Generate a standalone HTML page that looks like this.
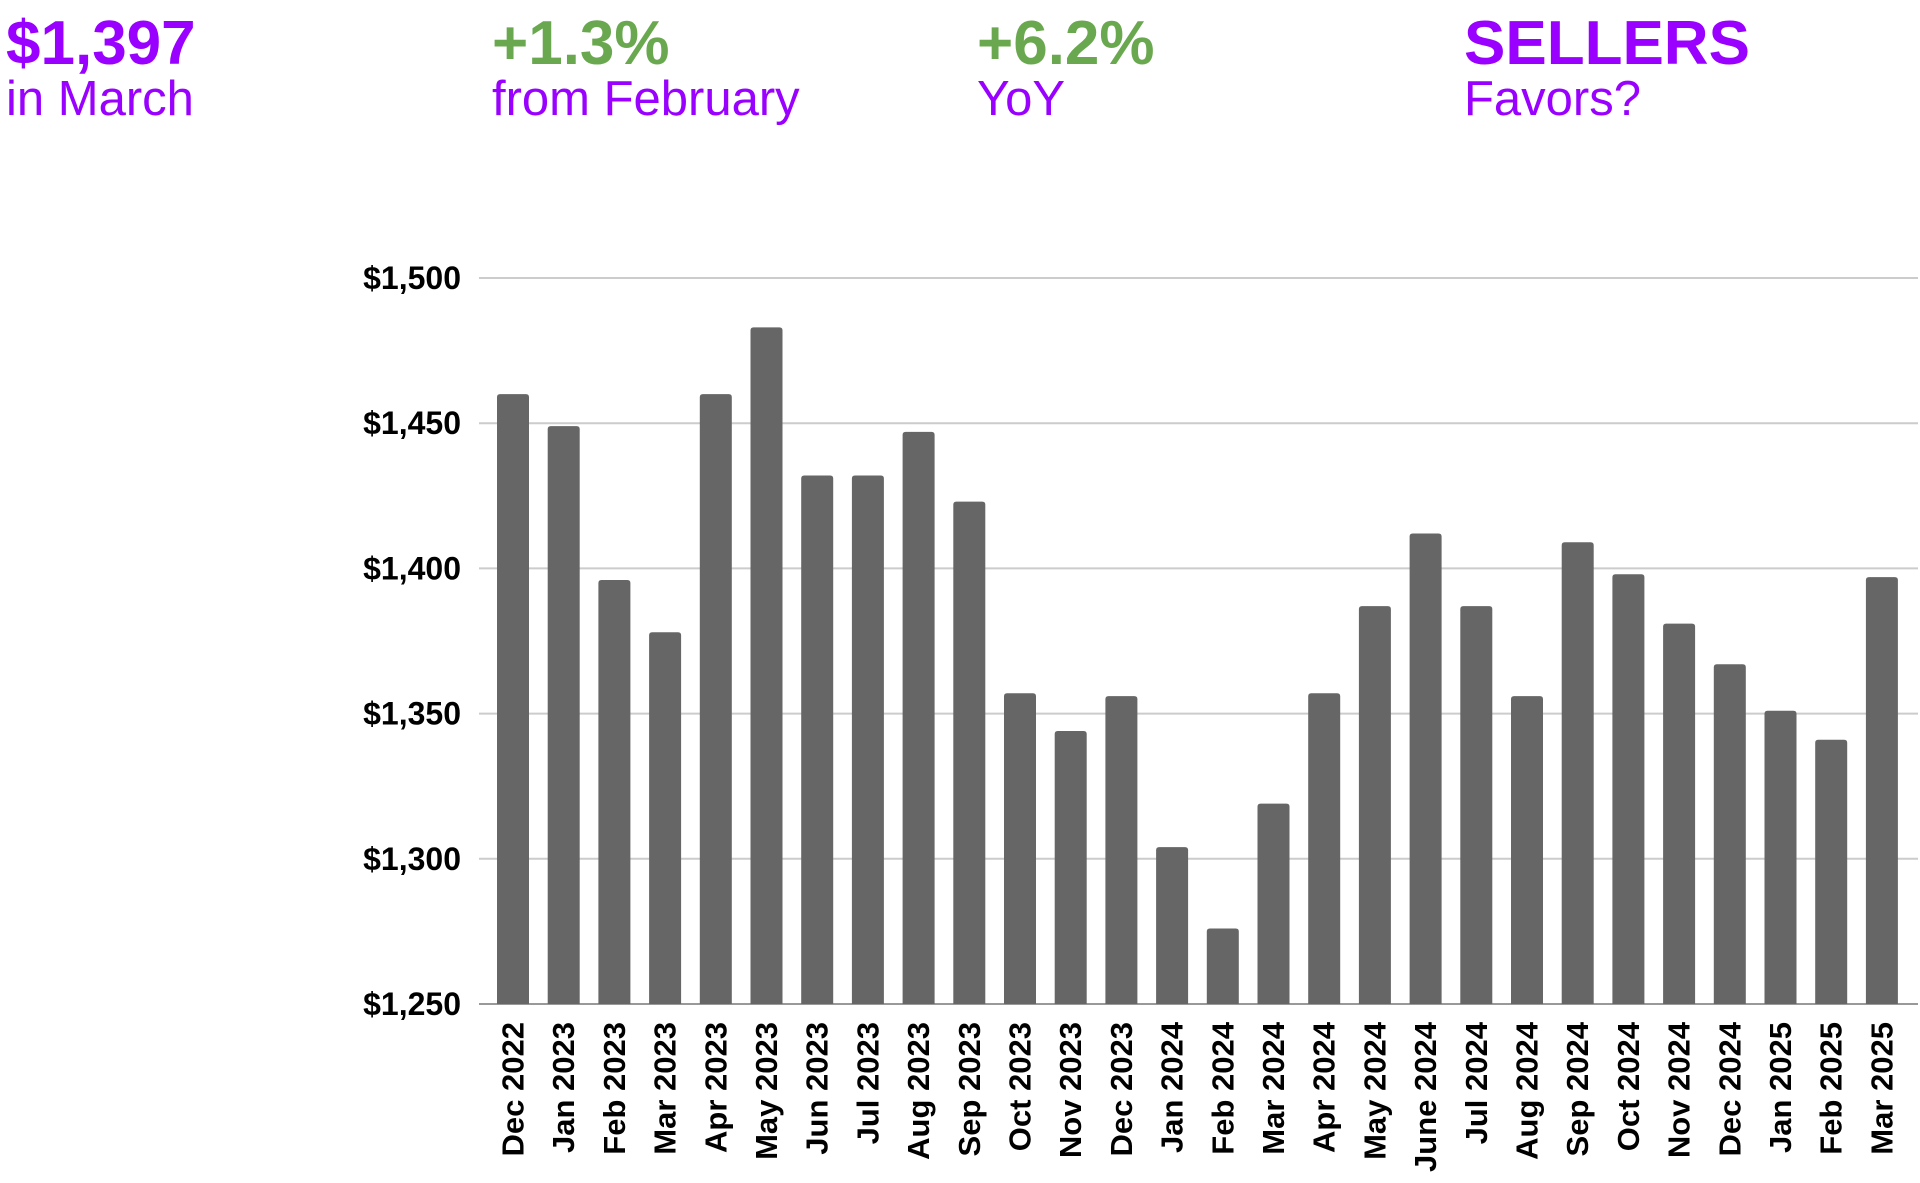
<!DOCTYPE html>
<html><head><meta charset="utf-8"><style>
html,body{margin:0;padding:0;background:#fff;}
body{width:1920px;height:1183px;position:relative;overflow:hidden;font-family:"Liberation Sans",sans-serif;}
.kpi{position:absolute;top:0;}
.kpi .big{position:absolute;left:0;top:9px;font-size:62px;font-weight:bold;white-space:nowrap;line-height:70px;}
.kpi .sub{position:absolute;left:0;top:71px;font-size:49px;white-space:nowrap;line-height:57px;color:#9900ff;}
.purple{color:#9900ff}.green{color:#6aa84f}
svg{position:absolute;left:0;top:0;}
</style></head><body>
<div class="kpi" style="left:6px"><div class="big purple">$1,397</div><div class="sub">in March</div></div>
<div class="kpi" style="left:492px"><div class="big green">+1.3%</div><div class="sub">from February</div></div>
<div class="kpi" style="left:977px"><div class="big green">+6.2%</div><div class="sub">YoY</div></div>
<div class="kpi" style="left:1464px"><div class="big purple">SELLERS</div><div class="sub">Favors?</div></div>
<svg id="chart" width="1920" height="1183"></svg>
<script>
const categories=["Dec 2022","Jan 2023","Feb 2023","Mar 2023","Apr 2023","May 2023","Jun 2023","Jul 2023","Aug 2023","Sep 2023","Oct 2023","Nov 2023","Dec 2023","Jan 2024","Feb 2024","Mar 2024","Apr 2024","May 2024","June 2024","Jul 2024","Aug 2024","Sep 2024","Oct 2024","Nov 2024","Dec 2024","Jan 2025","Feb 2025","Mar 2025"];
const values=[1460,1449,1396,1378,1460,1483,1432,1432,1447,1423,1357,1344,1356,1304,1276,1319,1357,1387,1412,1387,1356,1409,1398,1381,1367,1351,1341,1397];
const tickValues=[1250,1300,1350,1400,1450,1500];
const tickLabels=["$1,250","$1,300","$1,350","$1,400","$1,450","$1,500"];
const NS="http://www.w3.org/2000/svg";
const svg=document.getElementById('chart');
const yMin=1250,yMax=1500,yTop=278,yBot=1004;
const y=v=>yBot-(v-yMin)/(yMax-yMin)*(yBot-yTop);
const x0=513,band=50.7,bw=32;
const x=i=>x0+i*band;
function mk(t,a){const e=document.createElementNS(NS,t);for(const k in a)e.setAttribute(k,a[k]);svg.appendChild(e);return e;}
tickValues.forEach((v,i)=>{
  const g=mk('line',{x1:479,x2:1918,y1:y(v),y2:y(v),stroke:i===0?'#999':'#cccccc','stroke-width':2});
  
  
  const t=mk('text',{x:461,y:y(v),'text-anchor':'end','dominant-baseline':'central','font-size':32,'font-weight':'bold','font-family':'Liberation Sans, sans-serif',fill:'#000'});
  t.textContent=tickLabels[i];
  
  
});
values.forEach((v,i)=>{
  const cx=x(i),top=y(v);
  const p=mk('path',{d:`M${cx-bw/2},${yBot} V${top+3} Q${cx-bw/2},${top} ${cx-bw/2+3},${top} H${cx+bw/2-3} Q${cx+bw/2},${top} ${cx+bw/2},${top+3} V${yBot} Z`,fill:'#666666'});
  
  
  const t=mk('text',{x:0,y:0,transform:`translate(${cx},1022) rotate(-90)`,'text-anchor':'end','dominant-baseline':'central','font-size':31,'font-weight':'bold','font-family':'Liberation Sans, sans-serif',fill:'#000'});
  t.textContent=categories[i];
  
  
});
</script>
</body></html>
